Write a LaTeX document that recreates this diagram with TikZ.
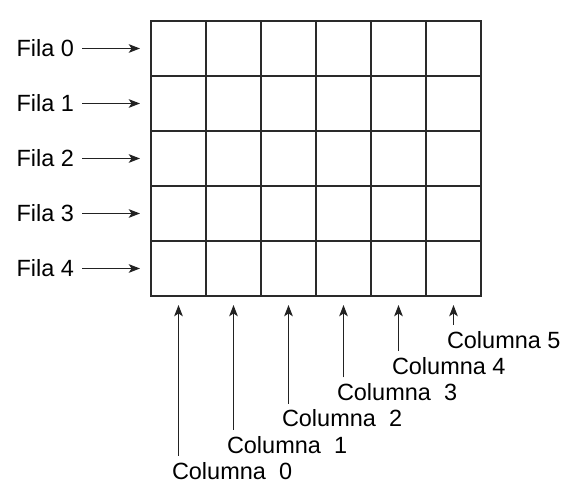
\documentclass[tikz,border=0pt]{standalone}
\usepackage{fontspec}
\setmainfont{Liberation Sans}
\usetikzlibrary{arrows.meta,calc}
\definecolor{gridc}{HTML}{2A2A2A}
\definecolor{arrc}{HTML}{222222}
\tikzset{
  cellbox/.style={draw=gridc, line width=1.1pt, minimum size=41.25pt, inner sep=0pt, outer sep=0pt},
  lbl/.style={inner sep=0pt, outer sep=0pt, font=\fontsize{17.6}{20}\selectfont, text=black},
  arr/.style={draw=arrc, line width=0.9pt, -{Stealth[length=8.5pt, width=6.5pt, inset=2.2pt]}},
}
\begin{document}
\begin{tikzpicture}[x=0.75pt, y=-0.75pt]
\useasboundingbox (0,0) rectangle (564,488);
% grid cells
\foreach \r in {0,...,4}{
  \foreach \c in {0,...,5}{
    \node[cellbox] (c-\r-\c) at ({151+55*\c+27.5},{21+55*\r+27.5}) {};
  }
}
% row labels
\foreach \r in {0,...,4}{
  \node[lbl, anchor=east] (f-\r) at (74,{48.5+55*\r}) {Fila \r};
  \draw[arr, shorten <=6pt, shorten >=8.25pt] (f-\r.east) -- (c-\r-0.west);
}
% column labels
\foreach \c/\txt in {0/{Columna\hspace{5pt} 0},1/{Columna\hspace{5pt} 1},2/{Columna\hspace{5pt} 2},3/{Columna\hspace{5pt} 3},4/{Columna 4},5/{Columna 5}}{
  \node[lbl, anchor=west] (k-\c) at ({151+55*\c+27.5-6.5},{471-26.2*\c}) {\txt};
  \draw[arr, shorten <=4.8pt, shorten >=6.75pt] (c-4-\c.south |- k-\c.north) -- (c-4-\c.south);
}
\end{tikzpicture}
\end{document}
